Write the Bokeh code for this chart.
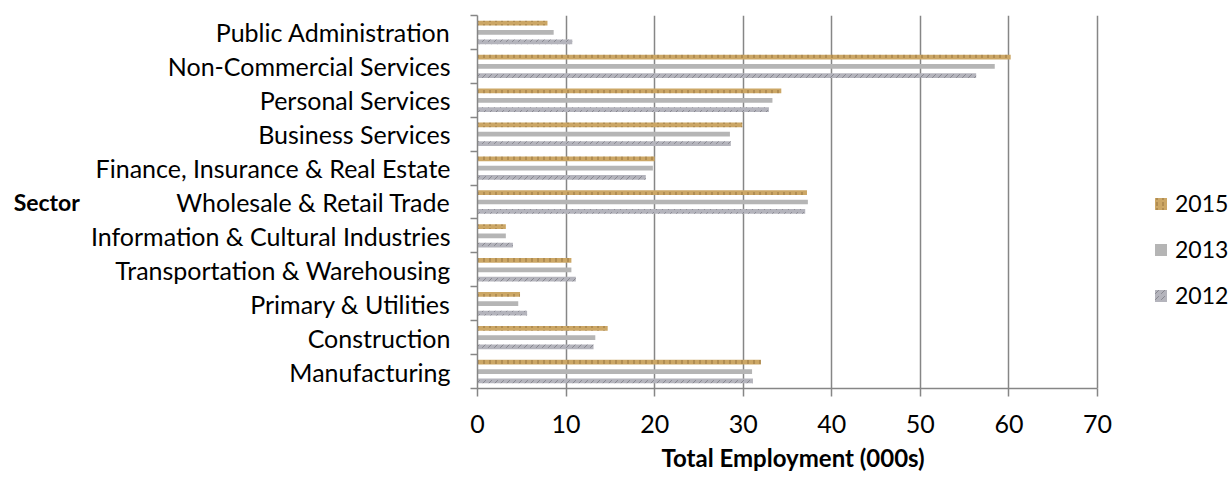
from bokeh.plotting import figure
from bokeh.models import ColumnDataSource, Range1d, FixedTicker, Legend, LegendItem, Title
from bokeh.transform import dodge
from bokeh.embed import file_html
from bokeh.resources import INLINE

# Sectors listed top to bottom as in the chart
sectors = ["Public Administration", "Non-Commercial Services", "Personal Services",
           "Business Services", "Finance, Insurance & Real Estate", "Wholesale & Retail Trade",
           "Information & Cultural Industries", "Transportation & Warehousing",
           "Primary & Utilities", "Construction", "Manufacturing"]
emp_2015 = [7.9, 60.2, 34.3, 29.9, 20.0, 37.2, 3.2, 10.6, 4.8, 14.7, 32.0]
emp_2013 = [8.6, 58.4, 33.3, 28.5, 19.8, 37.3, 3.2, 10.6, 4.6, 13.3, 31.0]
emp_2012 = [10.7, 56.3, 32.9, 28.6, 19.0, 37.0, 4.0, 11.1, 5.6, 13.1, 31.1]
x_ticks = [0, 10, 20, 30, 40, 50, 60, 70]
x_max = 70

n = len(sectors)
ypos = [n - 1 - i + 0.5 for i in range(n)]
src = ColumnDataSource(dict(sector=sectors, y=ypos, v2015=emp_2015, v2013=emp_2013, v2012=emp_2012))

FONT = "Lato"
FS = "25px"
GRAY = "#868686"

# frame spans to the right edge so the legend (drawn inside) is not clipped;
# the axis itself is bounded to 0..70
FRAME_W = 1232 - 477
SCALE = 620 / x_max  # px per unit of the 0..70 axis
p = figure(width=1232, height=477, output_backend="svg", toolbar_location=None,
           x_range=Range1d(0, FRAME_W / SCALE), y_range=Range1d(0, n),
           min_border_left=477, min_border_right=0, min_border_top=15, min_border_bottom=88)
p.outline_line_color = None
p.background_fill_color = "white"

r15 = p.hbar(y=dodge("y", 0.275), right="v2015", left=0, height=0.14, source=src,
             fill_color="#CCA766", line_color=None,
             hatch_pattern="vertical_dash", hatch_color="#765428", hatch_alpha=0.65, hatch_scale=6)
r13 = p.hbar(y="y", right="v2013", left=0, height=0.14, source=src,
             fill_color="#B5B5B5", line_color=None)
r12 = p.hbar(y=dodge("y", -0.275), right="v2012", left=0, height=0.14, source=src,
             fill_color="#B4B4BC", line_color=None,
             hatch_pattern="right_diagonal_dash", hatch_color="#5E5E68", hatch_alpha=0.55, hatch_scale=6)

# x axis
xa = p.xaxis[0]
xa.bounds = (0, x_max)
xa.ticker = FixedTicker(ticks=x_ticks, minor_ticks=[])
xa.axis_line_color = GRAY
xa.axis_line_width = 1.5
xa.major_tick_line_color = GRAY
xa.major_tick_line_width = 1.5
xa.major_tick_out = 8
xa.major_tick_in = 0
xa.minor_tick_line_color = None
xa.major_label_text_font = FONT
xa.major_label_text_font_size = FS
xa.major_label_text_color = "black"
xa.major_label_standoff = 18

p.add_layout(Title(text="Total Employment (000s)", align="left", offset=184,
                   text_font=FONT, text_font_size="24px", text_font_style="bold",
                   text_color="black", standoff=11), "below")

# y axis: labels at category centres, ticks at category boundaries
ya = p.yaxis[0]
ya.ticker = FixedTicker(ticks=ypos, minor_ticks=list(range(n + 1)))
ya.major_label_overrides = {y: s for y, s in zip(ypos, sectors)}
ya.axis_line_color = GRAY
ya.axis_line_width = 1.5
ya.major_tick_line_color = None
ya.major_tick_out = 0
ya.major_tick_in = 0
ya.minor_tick_line_color = GRAY
ya.minor_tick_line_width = 1.5
ya.minor_tick_out = 7
ya.minor_tick_in = 0
ya.major_label_text_font = FONT
ya.major_label_text_font_size = FS
ya.major_label_text_color = "black"
ya.major_label_standoff = 20
ya.axis_label = "Sector"
ya.axis_label_orientation = "horizontal"
ya.axis_label_text_font = FONT
ya.axis_label_text_font_size = "23px"
ya.axis_label_text_font_style = "bold"
ya.axis_label_text_color = "black"
ya.axis_label_standoff = 8

p.xgrid.ticker = FixedTicker(ticks=x_ticks)
p.xgrid.grid_line_color = GRAY
p.xgrid.grid_line_width = 1.5
p.ygrid.grid_line_color = None

legend = Legend(items=[LegendItem(label="2015", renderers=[r15]),
                       LegendItem(label="2013", renderers=[r13]),
                       LegendItem(label="2012", renderers=[r12])],
                location=(676, 79), orientation="vertical",
                glyph_width=15, glyph_height=15, label_standoff=7, spacing=18,
                label_text_font=FONT, label_text_font_size="23px", label_text_color="black",
                padding=0, margin=0, border_line_color=None, background_fill_alpha=0)
p.add_layout(legend)

open("out.html", "w").write(file_html(p, INLINE))
